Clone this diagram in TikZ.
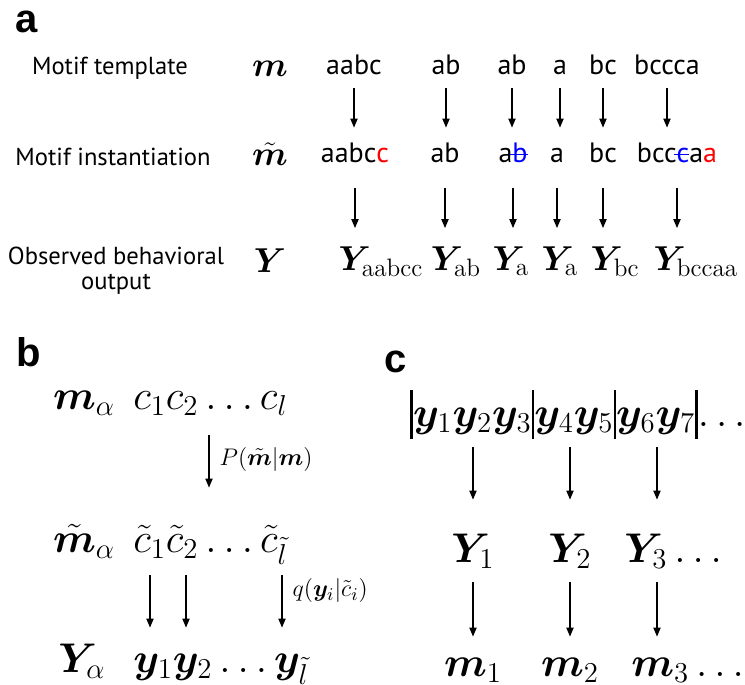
\documentclass[tikz,border=0pt]{standalone}
\usepackage{amsmath, amssymb, bm}
\usepackage{fontspec}
\newfontfamily\seqfont{PT Sans}
\newfontfamily\panelfont{Liberation Sans}
\usetikzlibrary{arrows.meta, positioning}

\newsavebox\strikebox
\newcommand{\strikeout}[1]{\sbox\strikebox{#1}\rlap{\usebox\strikebox}\kern-0.08em\rule[0.48ex]{\dimexpr\wd\strikebox+0.08em\relax}{0.12ex}}
\newcommand{\sepbar}{\vrule width 1.3pt height 0.85em depth 0.3em}

\tikzset{
    panel/.style={font=\panelfont\bfseries\fontsize{20}{24}\selectfont, inner sep=0pt},
    rowlabel/.style={font=\seqfont\fontsize{12.3}{12.5}\selectfont, align=center, inner sep=0pt},
    seq/.style={font=\seqfont\fontsize{14}{16}\selectfont, inner sep=0pt, text height=10pt, text depth=3pt},
    mathA/.style={font=\fontsize{18}{21}\selectfont, inner sep=0pt, text height=12.5pt, text depth=4pt},
    mathB/.style={font=\fontsize{21}{24}\selectfont, inner sep=0pt, text height=14pt, text depth=5pt},
    lbl/.style={font=\fontsize{12.5}{14}\selectfont, inner sep=2pt},
    arr/.style={-{Triangle[length=4.5pt, width=3.6pt]}, line width=0.65pt},
}

\begin{document}
\begin{tikzpicture}[x=0.5pt, y=-0.5pt]
    \useasboundingbox (0,0) rectangle (745,685);

    % panel a
    \node[panel] (la) at (27,22) {a};
    \node[rowlabel] (lt) at (110,68) {Motif template};
    \node[rowlabel] (li) at (113,157) {Motif instantiation};
    \node[rowlabel] (lo) at (116,271) {Observed behavioral\\output};
    \node[mathA] (m) at (270,68) {$\bm{m}$};
    \node[mathA] (mt) at (270,157) {$\tilde{\bm{m}}$};
    \node[mathA] (Y) at (270,264) {$\bm{Y}$};

    \foreach \x/\n/\t in {354/1/aabc, 446/2/ab, 512/3/ab, 560/4/a, 603/5/bc, 667/6/bccca}
        \node[seq] (t\n) at (\x,68) {\t};

    \node[seq] (i1) at (355,155) {aabc\textcolor{red}{c}};
    \node[seq] (i2) at (445,155) {ab};
    \node[seq] (i3) at (513,155) {a\textcolor{blue}{\strikeout{b}}};
    \node[seq] (i4) at (557,155) {a};
    \node[seq] (i5) at (603,155) {bc};
    \node[seq] (i6) at (677,155) {bcc\textcolor{blue}{\strikeout{c}}a\textcolor{red}{a}};

    \node[mathA] (o1) at (381,262) {$\bm{Y}_{\mathrm{aabcc}}$};
    \node[mathA] (o2) at (456,262) {$\bm{Y}_{\mathrm{ab}}$};
    \node[mathA] (o3) at (511,262) {$\bm{Y}_{\mathrm{a}}$};
    \node[mathA] (o4) at (560,262) {$\bm{Y}_{\mathrm{a}}$};
    \node[mathA] (o5) at (615,262) {$\bm{Y}_{\mathrm{bc}}$};
    \node[mathA] (o6) at (696,262) {$\bm{Y}_{\mathrm{bccaa}}$};

    \foreach \n in {1,...,6} {
        \draw[arr, shorten <=3.5pt, shorten >=7pt] (t\n.south) -- (t\n.south |- i\n.north);
        \draw[arr, shorten <=10pt, shorten >=8.5pt] (i\n.south) -- (i\n.south |- o\n.north);
    }

    % panel b
    \node[panel] (lb) at (29,352) {b};
    \node[mathB] (ma) at (84,400) {$\bm{m}_\alpha$};
    \node[mathB, anchor=west] (cs) at (133,400) {$c_1c_2\ldots c_l$};
    \node[mathB] (mta) at (84,543) {$\tilde{\bm{m}}_\alpha$};
    \node[mathB, anchor=west] (cts) at (133,543) {$\tilde{c}_1\tilde{c}_2\ldots\tilde{c}_{\tilde{l}}$};
    \node[mathB] (Ya) at (82,663) {$\bm{Y}_\alpha$};
    \node[mathB, anchor=west] (ys) at (133,663) {$\bm{y}_1\bm{y}_2\ldots\bm{y}_{\tilde{l}}$};

    \coordinate (colP) at (209,0);
    \coordinate (colq1) at (150,0);
    \coordinate (colq2) at (186,0);
    \coordinate (colq3) at (282,0);
    \draw[arr, shorten <=8pt, shorten >=18pt] (cs.south -| colP) -- node[lbl, right=3pt, pos=0.38] {$P(\tilde{\bm{m}}|\bm{m})$} (cts.north -| colP);
    \draw[arr, shorten <=6.5pt, shorten >=8pt] (cts.south -| colq1) -- (ys.north -| colq1);
    \draw[arr, shorten <=6.5pt, shorten >=8pt] (cts.south -| colq2) -- (ys.north -| colq2);
    \draw[arr, shorten <=6.5pt, shorten >=8pt] (cts.south -| colq3) -- node[lbl, right=3pt, pos=0.35] {$q(\bm{y}_i|\tilde{c}_i)$} (ys.north -| colq3);

    % panel c
    \node[panel] (lc) at (396,362) {c};
    \node[mathB, anchor=west] (yrow) at (410,417) {$\sepbar\bm{y}_1\bm{y}_2\bm{y}_3\sepbar\bm{y}_4\bm{y}_5\sepbar\bm{y}_6\bm{y}_7\sepbar{\ldots}$};
    \node[mathB] (Y1) at (473,553) {$\bm{Y}_1$};
    \node[mathB] (Y2) at (570,553) {$\bm{Y}_2$};
    \node[mathB, anchor=west] (Y3) at (624,553) {$\bm{Y}_3\ldots$};
    \node[mathB] (m1) at (473,667) {$\bm{m}_1$};
    \node[mathB] (m2) at (570,667) {$\bm{m}_2$};
    \node[mathB, anchor=west] (m3) at (631,667) {$\bm{m}_3\ldots$};

    \coordinate (colY3) at (657,0);
    \draw[arr, shorten <=5.5pt, shorten >=17pt] (yrow.south -| Y1) -- (Y1.north);
    \draw[arr, shorten <=5.5pt, shorten >=17pt] (yrow.south -| Y2) -- (Y2.north);
    \draw[arr, shorten <=5.5pt, shorten >=17pt] (yrow.south -| colY3) -- (Y3.north -| colY3);
    \draw[arr, shorten <=5pt, shorten >=5.5pt] (Y1.south) -- (Y1.south |- m1.north);
    \draw[arr, shorten <=5pt, shorten >=5.5pt] (Y2.south) -- (Y2.south |- m2.north);
    \draw[arr, shorten <=5pt, shorten >=5.5pt] (Y3.south -| colY3) -- (m3.north -| colY3);
\end{tikzpicture}
\end{document}
